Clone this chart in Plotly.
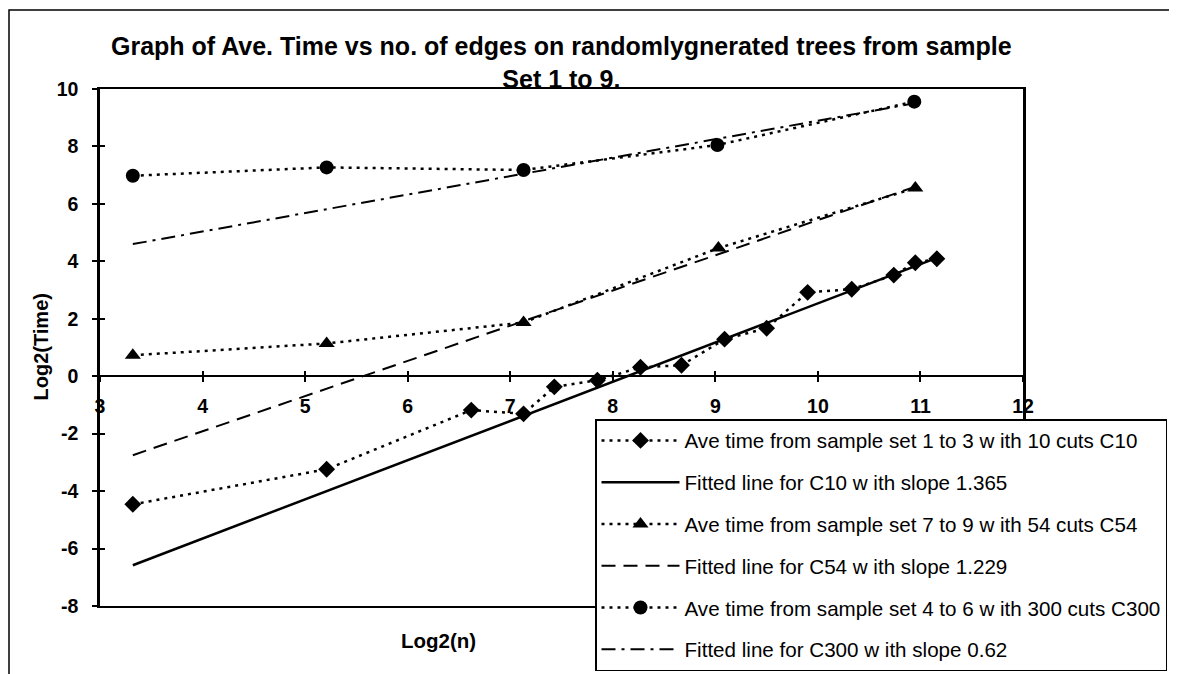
import plotly.graph_objects as go

# ---- data ----
c10_x = [3.32, 5.21, 6.62, 7.13, 7.43, 7.85, 8.27, 8.67, 9.09, 9.50, 9.90, 10.33, 10.74, 10.95, 11.16]
c10_y = [-4.46, -3.24, -1.18, -1.31, -0.37, -0.14, 0.31, 0.38, 1.29, 1.67, 2.92, 3.03, 3.52, 3.95, 4.09]
fit10_x = [3.32, 11.16]
fit10_y = [-6.58, 4.12]

c54_x = [3.32, 5.21, 7.13, 9.03, 10.95]
c54_y = [0.73, 1.14, 1.87, 4.46, 6.55]
fit54_x = [3.32, 10.95]
fit54_y = [-2.75, 6.60]

c300_x = [3.32, 5.21, 7.13, 9.02, 10.94]
c300_y = [6.98, 7.27, 7.18, 8.05, 9.56]
fit300_x = [3.32, 10.94]
fit300_y = [4.60, 9.50]

names = [
    "Ave time from sample set 1 to 3 w ith 10 cuts C10",
    "Fitted line for C10 w ith slope 1.365",
    "Ave time from sample set 7 to 9 w ith 54 cuts C54",
    "Fitted line for C54 w ith slope 1.229",
    "Ave time from sample set 4 to 6 w ith 300 cuts C300",
    "Fitted line for C300 w ith slope 0.62",
]
x_ticks = [3, 4, 5, 6, 7, 8, 9, 10, 11, 12]
x_tick_labels = ["3", "4", "5", "6", "7", "8", "9", "10", "11", "12"]
y_ticks = [-8, -6, -4, -2, 0, 2, 4, 6, 8, 10]
y_tick_labels = ["-8", "-6", "-4", "-2", "0", "2", "4", "6", "8", "10"]

title_text = "Graph of Ave. Time vs no. of edges on randomlygnerated trees from sample<br>Set 1 to 9."

FONT = "Liberation Sans, Arial, sans-serif"
DOT = "3px,5px"

# plot area in screen pixels (page body has an 8px margin)
OFF = 8
L, R, T, B = 100, 1023, 89, 606
W, H = 1177 - OFF, 674 - OFF
def px(xp):
    return (xp - L) / (R - L)
def py(yp):
    return (B - yp) / (B - T)

fig = go.Figure()

fig.add_trace(go.Scatter(x=c10_x, y=c10_y, mode="lines+markers", name=names[0],
                         line=dict(color="black", width=2.5, dash=DOT),
                         marker=dict(symbol="diamond", size=13, color="black"),
                         legendgroup="a"))
fig.add_trace(go.Scatter(x=fit10_x, y=fit10_y, mode="lines", name=names[1],
                         line=dict(color="black", width=2.5), legendgroup="b"))
fig.add_trace(go.Scatter(x=c54_x, y=c54_y, mode="lines+markers", name=names[2],
                         line=dict(color="black", width=2.5, dash=DOT),
                         marker=dict(symbol="triangle-up", size=14, color="black"),
                         legendgroup="c"))
fig.add_trace(go.Scatter(x=fit54_x, y=fit54_y, mode="lines", name=names[3],
                         line=dict(color="black", width=2, dash="14px,8px"), legendgroup="d"))
fig.add_trace(go.Scatter(x=c300_x, y=c300_y, mode="lines+markers", name=names[4],
                         line=dict(color="black", width=2.5, dash=DOT),
                         marker=dict(symbol="circle", size=14, color="black"),
                         legendgroup="e"))
fig.add_trace(go.Scatter(x=fit300_x, y=fit300_y, mode="lines", name=names[5],
                         line=dict(color="black", width=2, dash="14px,6px,3px,6px"), legendgroup="f"))

# empty helper traces so that the crossing-axis overlays are drawn
fig.add_trace(go.Scatter(x=[], y=[], xaxis="x2", yaxis="y2", showlegend=False, hoverinfo="skip"))
fig.add_trace(go.Scatter(x=[], y=[], xaxis="x3", yaxis="y", showlegend=False, hoverinfo="skip"))

tickfont = dict(family=FONT, size=19.5, color="black", weight="bold")
pos0 = (0 - (-8)) / 18.0

fig.update_layout(
    width=W, height=H,
    margin=dict(l=L - OFF, r=W - (R - OFF), t=T - OFF, b=H - (B - OFF), pad=0,
                autoexpand=False),
    paper_bgcolor="white", plot_bgcolor="white",
    font=dict(family=FONT, color="black"),
    showlegend=True,
    legend=dict(x=px(595), y=py(419), xanchor="left", yanchor="top",
                bgcolor="white", bordercolor="black", borderwidth=1.5,
                font=dict(family=FONT, size=20.6, color="black"),
                tracegroupgap=12, itemwidth=78, traceorder="grouped"),
    xaxis=dict(range=[3, 12], showticklabels=False, ticks="", showgrid=False, zeroline=False,
               showline=True, linecolor="black", linewidth=2, mirror=True, fixedrange=True),
    yaxis=dict(range=[-8, 10], tickvals=y_ticks, ticktext=y_tick_labels, ticks="outside",
               ticklen=5, tickwidth=1.5, tickcolor="black", tickfont=tickfont,
               ticklabelstandoff=10, showgrid=False, zeroline=False, showline=True,
               linecolor="black", linewidth=2.5, mirror=True, fixedrange=True),
    xaxis2=dict(range=[3, 12], overlaying="x", anchor="free", position=pos0,
                tickvals=x_ticks, ticktext=x_tick_labels, ticks="outside", ticklen=5,
                tickwidth=1.5, tickcolor="black", tickfont=tickfont, ticklabelstandoff=7,
                showgrid=False, zeroline=False, showline=True, linecolor="black",
                linewidth=2, fixedrange=True),
    xaxis3=dict(range=[3, 12], overlaying="x", anchor="free", position=pos0,
                tickvals=x_ticks, ticks="inside", ticklen=5, tickwidth=1.5, tickcolor="black",
                showticklabels=False, showgrid=False, zeroline=False, showline=False,
                fixedrange=True),
    yaxis2=dict(range=[-8, 10], overlaying="y", anchor="x2", side="left",
                tickvals=y_ticks, ticks="inside", ticklen=5, tickwidth=1.5, tickcolor="black",
                showticklabels=False, showgrid=False, zeroline=False, showline=False,
                fixedrange=True),
)

fig.add_annotation(text=title_text, xref="paper", yref="paper", x=0.5, y=py(62),
                   xanchor="center", yanchor="middle", showarrow=False,
                   font=dict(family=FONT, size=25, color="black", weight="bold"))
fig.add_annotation(text="Log2(Time)", xref="paper", yref="paper", x=px(40), y=0.5,
                   xanchor="center", yanchor="middle", showarrow=False, textangle=-90,
                   font=dict(family=FONT, size=20, color="black", weight="bold"))
fig.add_annotation(text="Log2(n)", xref="paper", yref="paper", x=px(438), y=py(640),
                   xanchor="center", yanchor="middle", showarrow=False,
                   font=dict(family=FONT, size=20.5, color="black", weight="bold"))

# outer chart border (left edge kept just inside the drawing area)
fig.add_shape(type="rect", xref="paper", yref="paper",
              x0=px(9), x1=px(1172), y0=py(690), y1=py(10),
              line=dict(color="black", width=1.5), fillcolor="rgba(0,0,0,0)", layer="below")

fig.write_html("out.html")
